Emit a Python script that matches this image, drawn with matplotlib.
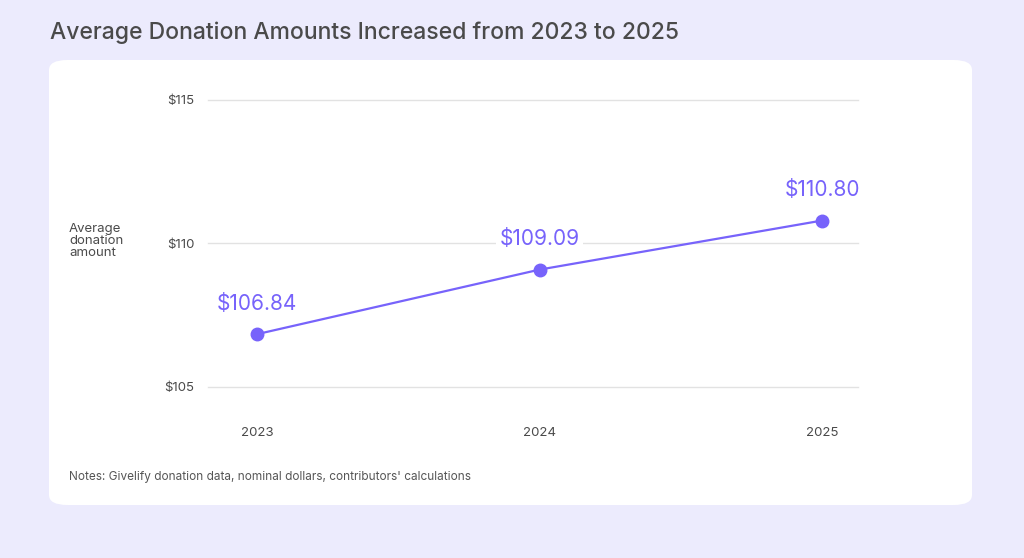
import matplotlib.pyplot as plt
from matplotlib.patches import FancyBboxPatch

years = [2023, 2024, 2025]
amounts = [106.84, 109.09, 110.80]
value_labels = ['$106.84', '$109.09', '$110.80']
y_ticks = [105, 110, 115]
y_ticklabels = ['$105', '$110', '$115']

title = 'Average Donation Amounts Increased from 2023 to 2025'
note = "Notes: Givelify donation data, nominal dollars, contributors' calculations"

purple = '#7763FB'
text_dark = '#4a4a4a'

plt.rcParams['font.family'] = ['Inter', 'DejaVu Sans']

W, H = 1024, 558
fig = plt.figure(figsize=(W / 100, H / 100), dpi=100)
fig.patch.set_facecolor('#ECEBFD')

# white rounded panel
panel = FancyBboxPatch((49 / W, 1 - 505 / H), (972 - 49) / W, (505 - 60) / H,
                       boxstyle='round,pad=0,rounding_size=0.018',
                       transform=fig.transFigure, facecolor='white',
                       edgecolor='none', zorder=-10)
fig.patches.append(panel)

fig.text(50 / W, 1 - 33 / H, title, fontsize=16.5, fontweight='medium',
         color=text_dark, va='center', ha='left')

ax = fig.add_axes([208 / W, 1 - 387 / H, (858 - 208) / W, (387 - 100) / H])
ax.set_facecolor('none')
ax.plot(years, amounts, color=purple, lw=1.6, marker='o', ms=9, zorder=3)
for x, y, lab in zip(years, amounts, value_labels):
    ax.annotate(lab, (x, y), xytext=(0, 22), textcoords='offset points',
                ha='center', va='center', fontsize=15, color=purple, zorder=4,
                bbox=dict(boxstyle='square,pad=0.15', fc='white', ec='none'))

ax.set_ylim(105, 115)
ax.set_xlim(2022.827, 2025.127)
ax.set_yticks(y_ticks)
ax.set_yticklabels(y_ticklabels)
ax.set_xticks(years)
ax.set_xticklabels([str(y) for y in years])
ax.grid(axis='y', color='#e2e2e2', lw=1)
for gl in ax.get_ygridlines():
    gl.set_clip_on(False)
ax.set_axisbelow(True)
for s in ax.spines.values():
    s.set_visible(False)
ax.tick_params(axis='both', length=0, labelsize=9.5, colors=text_dark)
ax.tick_params(axis='x', pad=29)
ax.tick_params(axis='y', pad=10)

fig.text(69 / W, 1 - 241 / H, 'Average\ndonation\namount', fontsize=9.5,
         color=text_dark, ha='left', va='center', linespacing=1.05)
fig.text(69 / W, 1 - 477 / H, note, fontsize=8.5, color='#555555', ha='left', va='center')

fig.savefig('out.png', dpi=100, facecolor=fig.get_facecolor())
